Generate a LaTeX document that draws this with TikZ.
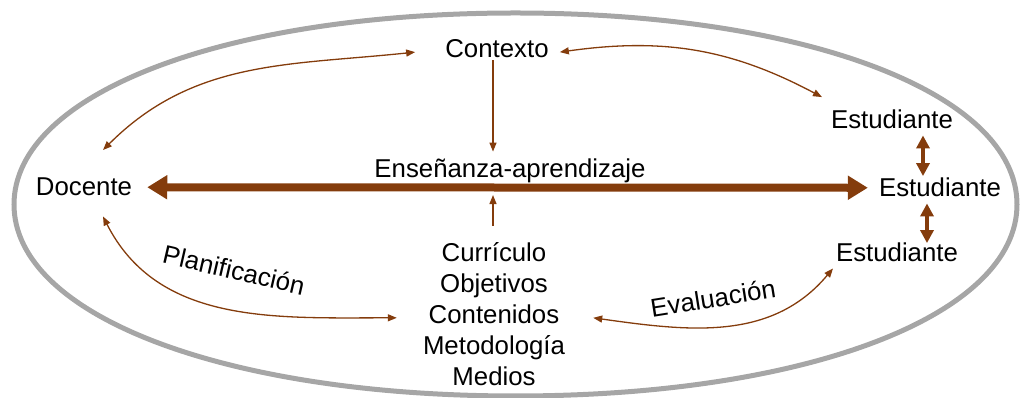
\documentclass[tikz,border=0pt]{standalone}
\usepackage{fontspec}
\setmainfont{Liberation Sans}
\usetikzlibrary{arrows.meta}
\definecolor{marron}{RGB}{132,60,12}
\definecolor{gris}{RGB}{166,166,166}

\begin{document}
\begin{tikzpicture}[x=1pt,y=1pt,
    texto/.style={inner sep=0pt,anchor=base,font=\fontsize{25.8}{31}\selectfont},
    flecha/.style={marron,line width=1.3pt,>={Triangle[length=9pt,width=7pt]}},
    flechamedia/.style={marron,line width=4.5pt,>={Triangle[length=13pt,width=13pt]}},
    flechagruesa/.style={marron,line width=8pt,>={Triangle[length=20pt,width=23pt]}}]
    \useasboundingbox (0,0) rectangle (1021,398);

    \draw[gris,line width=5pt] (1017,193.5) .. controls (1017,304.6) and (806.4,385) .. (515.5,385)
        .. controls (224.6,385) and (14,304.6) .. (14,193.5)
        .. controls (14,82.4) and (224.6,2) .. (515.5,2)
        .. controls (806.4,2) and (1017,82.4) .. cycle;

    \node[texto] (contexto) at (497,340) {Contexto};
    \node[texto] (docente) at (84,202) {Docente};
    \node[texto] (ensenanza) at (510,220) {Enseñanza-aprendizaje};
    \node[texto] (estA) at (892,269) {Estudiante};
    \node[texto] (estB) at (940,201) {Estudiante};
    \node[texto] (estC) at (897,136) {Estudiante};
    \node[texto,anchor=north,align=center] (lista) at (494,156) {Currículo\\Objetivos\\Contenidos\\Metodología\\Medios};
    \node[texto,anchor=center,rotate=-13] (planif) at (234,128) {Planificación};
    \node[texto,anchor=center,rotate=9] (evalua) at (713,100) {Evaluación};

    \draw[flecha,<->] ([xshift=19pt,yshift=28pt]docente.north) to[out=45,in=186] ([xshift=-30pt,yshift=-3pt]contexto.west);
    \draw[flecha,<->] ([xshift=11pt,yshift=-3pt]contexto.east) to[out=8,in=152] ([xshift=-70pt,yshift=13pt]estA.north);
    \draw[flecha,->,shorten <=2pt,shorten >=7.5pt] ([xshift=-4pt]contexto.south) -- ([xshift=-17pt]ensenanza.north);
    \draw[flecha,->,shorten <=16pt,shorten >=11.5pt] ([xshift=-1pt]lista.north) -- ([xshift=-17pt]ensenanza.south);
    \draw[flechagruesa,<->,shorten <=15pt,shorten >=11pt] (docente.east) -- (estB.west);
    \draw[flechamedia,<->,shorten <=6pt,shorten >=2pt] ([xshift=31pt]estA.south) -- ([xshift=-17pt]estB.north);
    \draw[flechamedia,<->,shorten <=6pt] ([xshift=-13pt]estB.south) -- ([xshift=30pt]estC.north);
    \draw[flecha,<->] ([xshift=19pt,yshift=-20pt]docente.south) to[out=-63,in=180] ([xshift=-26pt,yshift=-4pt]lista.west);
    \draw[flecha,<->] ([xshift=28pt,yshift=-4pt]lista.east) to[out=-8,in=230] ([xshift=-64pt,yshift=-6pt]estC.south);

\end{tikzpicture}
\end{document}
